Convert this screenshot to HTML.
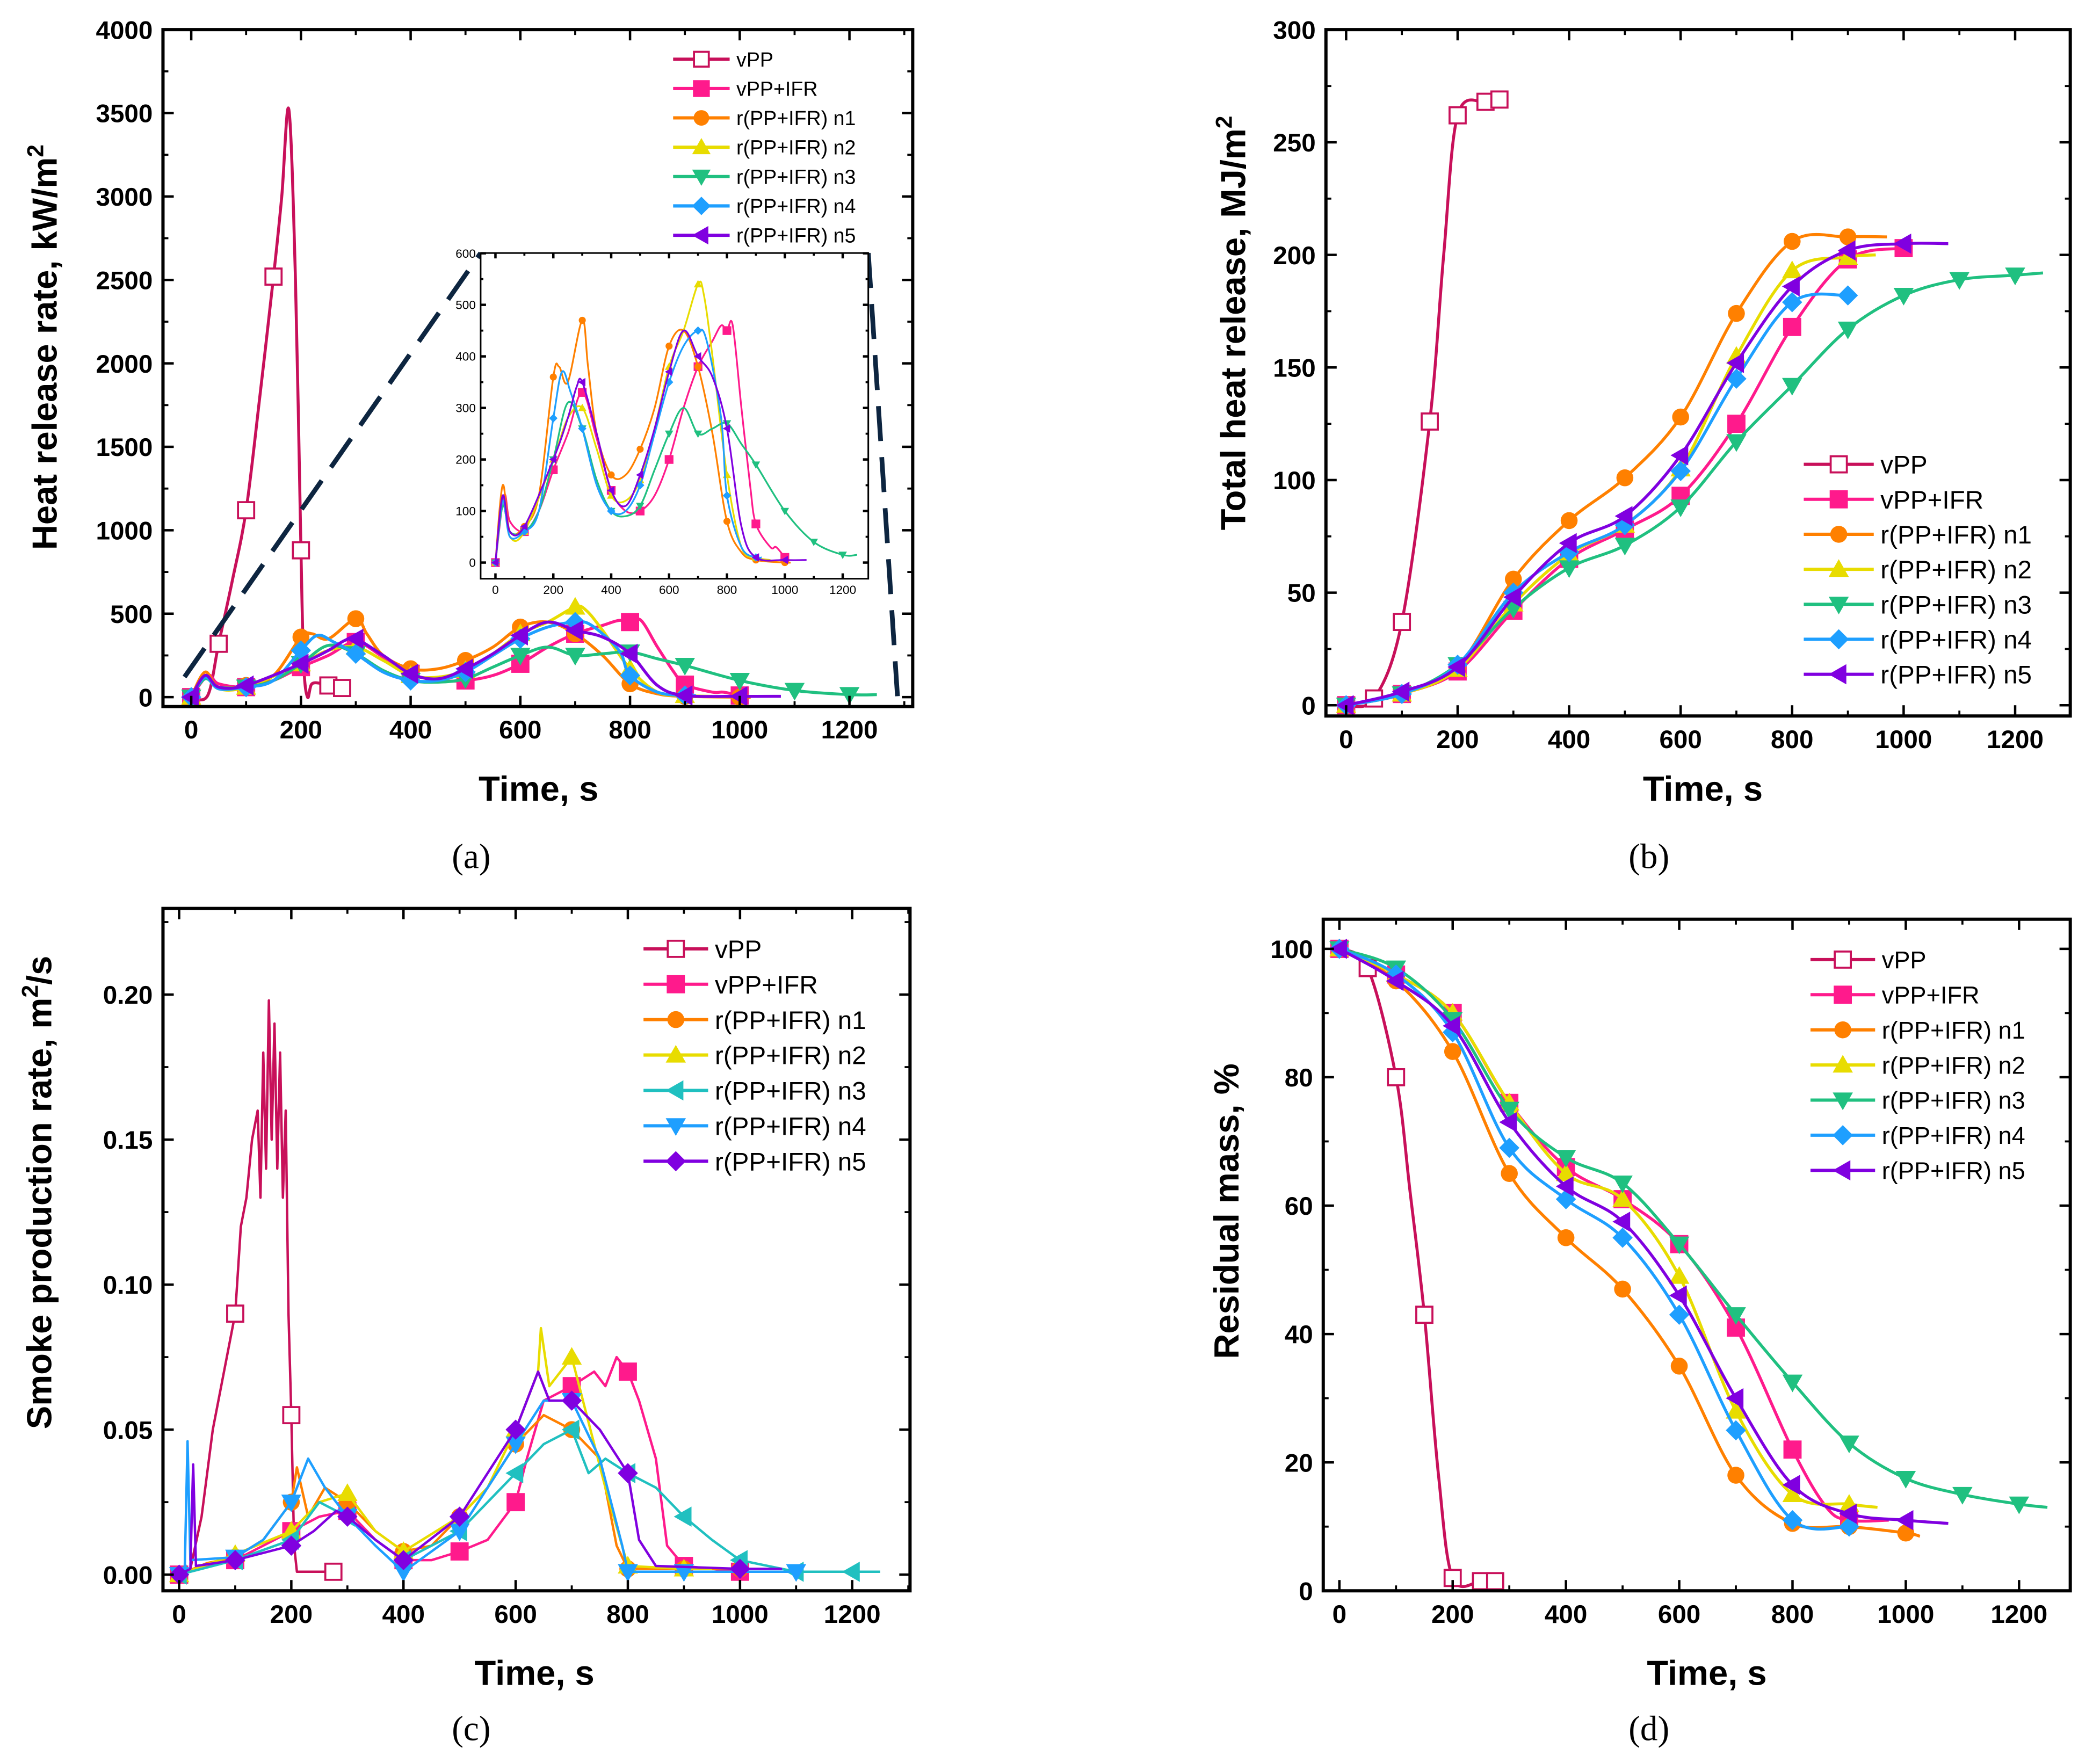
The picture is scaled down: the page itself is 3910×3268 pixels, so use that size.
<!DOCTYPE html>
<html><head><meta charset="utf-8">
<style>
html,body{margin:0;padding:0;background:#fff;}
svg{display:block;}
</style></head>
<body>
<svg id="fig" width="3910" height="3268" viewBox="0 0 1560 1304" xmlns="http://www.w3.org/2000/svg" font-family="Liberation Sans, Arial, sans-serif">
<rect x="0" y="0" width="1560" height="1304" fill="#fff"/>
</svg>
<script>
// ---------- DATA ----------
const names = ["vPP","vPP+IFR","r(PP+IFR) n1","r(PP+IFR) n2","r(PP+IFR) n3","r(PP+IFR) n4","r(PP+IFR) n5"];
const xTicks = [0,200,400,600,800,1000,1200];
// (a) heat release rate
const hrrTicks = [0,500,1000,1500,2000,2500,3000,3500,4000];
const hrrInsetTicks = [0,100,200,300,400,500,600];
const hrr_vPP = [[0,0],[30,10],[50,320],[75,700],[100,1120],[125,1800],[150,2520],[165,3000],[178,3520],[190,2500],[200,880],[205,200],[212,0],[220,80],[240,80],[250,70],[275,55]];
const hrr_vPPIFR = [[0,0],[30,130],[50,80],[100,60],[150,100],[200,180],[250,250],[300,330],[350,240],[400,140],[450,100],[500,100],[550,130],[600,200],[650,300],[700,380],[750,430],[780,460],[800,450],[820,460],[850,300],[880,150],[900,75],[950,30],[970,30],[1000,10]];
const hrr_n1 = [[0,0],[25,150],[50,60],[100,70],[150,130],[200,360],[220,380],[250,350],[300,470],[320,380],[350,250],[400,170],[450,170],[500,220],[550,300],[600,420],[650,450],[700,380],[750,250],[800,80],[850,20],[900,5],[1000,0],[1020,0]];
const hrr_n2 = [[0,0],[25,120],[50,50],[100,60],[200,200],[250,280],[300,300],[350,220],[400,130],[450,120],[500,160],[550,260],[600,380],[650,450],[700,540],[720,520],[750,400],[800,170],[850,30],[900,10],[950,5]];
const hrr_n3 = [[0,0],[25,110],[50,60],[100,60],[150,100],[200,200],[250,310],[300,260],[350,160],[400,100],[450,90],[500,110],[550,180],[600,250],[650,300],[700,250],[750,260],[800,270],[850,230],[900,190],[1000,100],[1100,40],[1200,15],[1250,15]];
const hrr_n4 = [[0,0],[25,120],[50,50],[100,60],[150,100],[200,280],[230,370],[260,330],[300,260],[350,150],[400,100],[450,100],[500,150],[550,250],[600,350],[650,420],[700,450],[730,430],[780,280],[800,130],[850,30],[900,10],[920,10]];
const hrr_n5 = [[0,0],[25,130],[50,60],[100,70],[200,200],[250,280],[280,340],[300,350],[350,250],[400,140],[450,110],[500,170],[550,260],[600,370],[650,450],[700,400],[750,360],[800,260],[850,70],[900,10],[1000,5],[1075,5]];
// (b) total heat release
const thrTicks = [0,50,100,150,200,250,300];
const thr_vPP = [[0,0],[50,3],[100,37],[150,126],[175,200],[200,262],[250,268],[275,269]];
const thr_vPPIFR = [[0,0],[50,2],[100,5],[200,15],[300,42],[400,65],[500,78],[600,93],[700,125],[800,168],[900,198],[1000,203]];
const thr_n1 = [[0,0],[100,5],[200,17],[300,56],[400,82],[500,101],[600,128],[700,174],[800,206],[900,208],[970,208]];
const thr_n2 = [[0,0],[100,5],[200,16],[300,45],[400,67],[500,80],[600,105],[700,155],[800,193],[900,199],[950,200]];
const thr_n3 = [[0,0],[100,5],[200,18],[300,43],[400,61],[500,71],[600,88],[700,117],[800,142],[900,167],[1000,182],[1100,189],[1200,191],[1250,192]];
const thr_n4 = [[0,0],[100,5],[200,18],[300,50],[400,68],[500,80],[600,104],[700,145],[800,179],[900,182]];
const thr_n5 = [[0,0],[100,6],[200,17],[300,48],[400,72],[500,84],[600,111],[700,152],[800,186],[900,202],[1000,205],[1080,205]];
// (c) smoke production rate
const sprTicks = [0,0.05,0.10,0.15,0.20];
const sprTickLabels = ["0.00","0.05","0.10","0.15","0.20"];
const spr_vPP = [[0,0],[20,0.002],[40,0.02],[60,0.05],[80,0.07],[100,0.09],[110,0.12],[120,0.13],[130,0.15],[140,0.16],[145,0.13],[150,0.18],[155,0.14],[160,0.198],[165,0.15],[170,0.19],[175,0.14],[180,0.18],[185,0.13],[190,0.16],[195,0.09],[200,0.055],[205,0.01],[210,0.001],[275,0.001]];
const spr_vPPIFR = [[0,0],[50,0.003],[100,0.005],[150,0.01],[200,0.015],[250,0.02],[300,0.022],[350,0.012],[400,0.005],[450,0.005],[500,0.008],[550,0.012],[600,0.025],[620,0.04],[650,0.06],[700,0.065],[740,0.07],[760,0.065],[780,0.075],[800,0.07],[820,0.06],[850,0.04],[870,0.01],[900,0.003],[1000,0.001]];
const spr_n1 = [[0,0],[50,0.004],[100,0.006],[150,0.012],[200,0.025],[210,0.037],[230,0.02],[260,0.03],[300,0.025],[350,0.015],[400,0.008],[450,0.01],[500,0.02],[550,0.03],[600,0.045],[650,0.055],[700,0.05],[750,0.04],[780,0.01],[800,0.002],[900,0.002],[1000,0.002]];
const spr_n2 = [[0,0],[100,0.007],[200,0.015],[250,0.025],[300,0.028],[350,0.015],[400,0.008],[500,0.02],[550,0.03],[600,0.05],[640,0.07],[645,0.085],[660,0.065],[700,0.075],[720,0.06],[760,0.03],[800,0.003],[900,0.002],[950,0.002]];
const spr_n3 = [[0,0],[100,0.005],[200,0.012],[250,0.025],[300,0.02],[350,0.012],[400,0.005],[500,0.015],[550,0.025],[600,0.035],[650,0.045],[700,0.05],[730,0.035],[760,0.04],[800,0.035],[850,0.03],[900,0.02],[950,0.012],[1000,0.005],[1100,0.001],[1200,0.001],[1250,0.001]];
const spr_n4 = [[0,0],[10,0.002],[15,0.046],[20,0.005],[100,0.006],[150,0.012],[200,0.025],[230,0.04],[260,0.03],[300,0.02],[350,0.01],[400,0.001],[450,0.008],[500,0.015],[550,0.03],[600,0.045],[650,0.06],[700,0.06],[750,0.04],[790,0.01],[800,0.001],[900,0.001],[1100,0.001]];
const spr_n5 = [[0,0],[20,0.002],[25,0.038],[30,0.003],[100,0.005],[200,0.01],[240,0.015],[280,0.022],[300,0.02],[350,0.012],[400,0.005],[500,0.02],[550,0.035],[600,0.05],[640,0.07],[660,0.06],[700,0.06],[750,0.05],[800,0.035],[820,0.012],[850,0.003],[1000,0.002],[1075,0.002]];
// (d) residual mass
const rmTicks = [0,20,40,60,80,100];
const rm_vPP = [[0,100],[50,97],[100,80],[125,62],[150,43],[175,18],[200,2],[250,1.5],[275,1.5]];
const rm_vPPIFR = [[0,100],[100,96],[200,90],[300,76],[400,66],[500,61],[600,54],[700,41],[800,22],[860,13],[900,11],[970,11]];
const rm_n1 = [[0,100],[100,95],[200,84],[300,65],[400,55],[500,47],[600,35],[700,18],[800,10.5],[900,10],[1000,9],[1025,8.5]];
const rm_n2 = [[0,100],[100,96],[200,90],[300,76],[400,65],[500,61],[600,49],[700,28],[800,15],[900,13.5],[950,13]];
const rm_n3 = [[0,100],[100,97],[200,89],[300,75],[400,67.5],[500,63.5],[600,54],[700,43],[800,32.5],[900,23],[1000,17.5],[1100,15],[1200,13.5],[1250,13]];
const rm_n4 = [[0,100],[100,96],[200,87],[300,69],[400,61],[500,55],[600,43],[700,25],[800,11],[900,10]];
const rm_n5 = [[0,100],[100,95],[200,88],[300,73],[400,63],[500,57.5],[600,46],[700,30],[800,16.5],[900,12],[1000,11],[1075,10.5]];

// ---------- STYLE ----------
const colors = ["#c8105a","#ff1a8c","#ff8000","#e8dc00","#20c080","#1e9fff","#8000e0"];
const colorsC = ["#c8105a","#ff1a8c","#ff8000","#e8dc00","#20c0c0","#1e9fff","#8000e0"];
const shapesStd = ["osq","sq","circ","tup","tdn","dia","tlf"];
const shapesC = ["osq","sq","circ","tup","tlf","tdn","dia"];
const NS = "http://www.w3.org/2000/svg";
const svg = document.getElementById("fig");
function mk(tag, attrs, parent){
  const e = document.createElementNS(NS, tag);
  for (const k in attrs) e.setAttribute(k, attrs[k]);
  (parent||svg).appendChild(e);
  return e;
}
function smoothPath(pts){
  if (pts.length<3) return "M"+pts.map(p=>p.join(",")).join("L");
  let d = "M"+pts[0][0]+","+pts[0][1];
  for (let i=0;i<pts.length-1;i++){
    const p0=pts[Math.max(i-1,0)],p1=pts[i],p2=pts[i+1],p3=pts[Math.min(i+2,pts.length-1)];
    const c1=[p1[0]+(p2[0]-p0[0])/6,p1[1]+(p2[1]-p0[1])/6];
    const c2=[p2[0]-(p3[0]-p1[0])/6,p2[1]-(p3[1]-p1[1])/6];
    d+="C"+c1.join(",")+" "+c2.join(",")+" "+p2.join(",");
  }
  return d;
}
function marker(g, shape, x, y, r, col){
  let e;
  const fill = shape==="osq" ? "#fff" : col;
  if (shape==="osq"||shape==="sq") e = mk("rect",{x:x-r,y:y-r,width:2*r,height:2*r,fill:fill,stroke:col,"stroke-width":1.5},g);
  else if (shape==="circ") e = mk("circle",{cx:x,cy:y,r:r*1.05,fill:col},g);
  else {
    let p;
    const s=r*1.25;
    if (shape==="tup") p=[[x,y-s],[x+s,y+s*0.75],[x-s,y+s*0.75]];
    if (shape==="tdn") p=[[x,y+s],[x+s,y-s*0.75],[x-s,y-s*0.75]];
    if (shape==="tlf") p=[[x-s,y],[x+s*0.75,y-s],[x+s*0.75,y+s]];
    if (shape==="dia") p=[[x,y-s],[x+s,y],[x,y+s],[x-s,y]];
    e = mk("polygon",{points:p.map(q=>q.join(",")).join(" "),fill:col},g);
  }
  
  
}

function panel(cfg){
  const g = mk("g",{});
  
  
  const X = t => cfg.x0 + t*cfg.xs;
  const Y = v => cfg.y0 - v*cfg.ys;
  const F = cfg.frame; // [l,t,r,b]
  const clipId = "clip_"+cfg.name;
  const cp = mk("clipPath",{id:clipId},g);
  mk("rect",{x:F[0],y:F[1],width:F[2]-F[0],height:F[3]-F[1]},cp);
  const sg = mk("g",{"clip-path":"url(#"+clipId+")"},g);
  cfg.series.forEach((s,i)=>{
    if (!s) return;
    const pts = s.map(p=>[X(p[0]),Y(p[1])]);
    const d = cfg.linear ? "M"+pts.map(p=>p.join(",")).join("L") : smoothPath(pts);
    const path = mk("path",{d:d,fill:"none",stroke:cfg.colors[i],"stroke-width":cfg.lw||2.2,"stroke-linejoin":"round"},sg);
    
    
    s.forEach(p=>{
      if (p[0]%cfg.mstep===0 || (cfg.extraMarks && cfg.extraMarks[i] && cfg.extraMarks[i].includes(p[0])))
        marker(sg, cfg.shapes[i], X(p[0]), Y(p[1]), cfg.mr, cfg.colors[i]);
    });
  });
  const fr = mk("rect",{x:F[0],y:F[1],width:F[2]-F[0],height:F[3]-F[1],fill:"none",stroke:"#000","stroke-width":cfg.fw||2.4},g);
  
  
  const tl = cfg.tl||8, fs = cfg.tfs||19, bold = cfg.tbold===false?"normal":"bold";
  cfg.xticks.forEach((t,k)=>{
    const x = X(t);
    mk("line",{x1:x,y1:F[3],x2:x,y2:F[3]-tl,stroke:"#000","stroke-width":1.8},g);
    mk("line",{x1:x,y1:F[1],x2:x,y2:F[1]+tl,stroke:"#000","stroke-width":1.8},g);
    const mx = X(t+ (cfg.xticks[1]-cfg.xticks[0])/2);
    if (mx<F[2]){
      mk("line",{x1:mx,y1:F[3],x2:mx,y2:F[3]-tl/2,stroke:"#000","stroke-width":1.5},g);
      mk("line",{x1:mx,y1:F[1],x2:mx,y2:F[1]+tl/2,stroke:"#000","stroke-width":1.5},g);
    }
    const tx = mk("text",{x:x,y:F[3]+fs*1.25,"text-anchor":"middle","font-size":fs,"font-weight":bold},g);
    tx.textContent = t;
    
    
  });
  cfg.yticks.forEach((v,k)=>{
    const y = Y(v);
    mk("line",{x1:F[0],y1:y,x2:F[0]+tl,y2:y,stroke:"#000","stroke-width":1.8},g);
    mk("line",{x1:F[2],y1:y,x2:F[2]-tl,y2:y,stroke:"#000","stroke-width":1.8},g);
    const my = Y(v+(cfg.yticks[1]-cfg.yticks[0])/2);
    if (my>F[1]){
      mk("line",{x1:F[0],y1:my,x2:F[0]+tl/2,y2:my,stroke:"#000","stroke-width":1.5},g);
      mk("line",{x1:F[2],y1:my,x2:F[2]-tl/2,y2:my,stroke:"#000","stroke-width":1.5},g);
    }
    const ty = mk("text",{x:F[0]-fs*0.4,y:y+fs*0.36,"text-anchor":"end","font-size":fs,"font-weight":bold},g);
    ty.textContent = cfg.ylabels ? cfg.ylabels[k] : v;
    
    
  });
  if (cfg.legend){
    const L = cfg.legend;
    names.forEach((n,i)=>{
      const y = L.y + i*L.dy;
      const lg = mk("g",{},g);
      
      
      mk("line",{x1:L.x,y1:y,x2:L.x+L.w,y2:y,stroke:cfg.colors[i],"stroke-width":2.4},lg);
      marker(lg, cfg.shapes[i], L.x+L.w/2, y, L.mr, cfg.colors[i]);
      const t = mk("text",{x:L.x+L.w+5,y:y+L.fs*0.36,"font-size":L.fs},lg);
      t.textContent = n;
    });
  }
  if (cfg.xtitle){
    const t = mk("text",{x:cfg.xtitle[0],y:cfg.xtitle[1],"text-anchor":"middle","font-size":26,"font-weight":"bold"},g);
    t.textContent = "Time, s";
    
    
  }
  if (cfg.ytitle){
    const t = mk("text",{x:0,y:0,"text-anchor":"middle","font-size":26,"font-weight":"bold",transform:"translate("+cfg.ytitle[0]+","+cfg.ytitle[1]+") rotate(-90)"},g);
    t.innerHTML = cfg.ytitle[2];
    
    
  }
  if (cfg.label){
    const t = mk("text",{x:cfg.label[0],y:cfg.label[1],"text-anchor":"middle","font-size":26,style:"font-family:'Liberation Serif',serif"},g);
    t.textContent = cfg.label[2];
    
    
  }
}

const hrrSeries = [hrr_vPP,hrr_vPPIFR,hrr_n1,hrr_n2,hrr_n3,hrr_n4,hrr_n5];
const vppMarks = [[50,150,250,275]];
panel({name:"panel-a-hrr",x0:142,xs:0.4075,y0:518,ys:0.124,frame:[121,22,678,525],
  series:hrrSeries,colors:colors,shapes:shapesStd,mstep:100,mr:6,extraMarks:vppMarks,
  xticks:xTicks,yticks:hrrTicks,
  legend:{x:500,y:44,dy:21.8,w:42,fs:15,mr:5.5},
  xtitle:[400,595],ytitle:[42,258,'Heat release rate, kW/m<tspan dy="-10" font-size="17">2</tspan>'],label:[350,645,"(a)"]});
mk("line",{x1:137,y1:503,x2:357,y2:188,stroke:"#0d2540","stroke-width":3.5,"stroke-dasharray":"26,12"});
mk("line",{x1:645,y1:188,x2:667,y2:522,stroke:"#0d2540","stroke-width":3.5,"stroke-dasharray":"26,12"});
mk("rect",{x:357,y:188,width:288,height:242,fill:"#fff"});
panel({name:"panel-a-inset",x0:368,xs:0.215,y0:418,ys:0.383,frame:[357,188,645,430],
  series:[null,hrr_vPPIFR,hrr_n1,hrr_n2,hrr_n3,hrr_n4,hrr_n5],colors:colors,shapes:shapesStd,mstep:100,mr:2.5,lw:1.3,fw:1.2,
  xticks:xTicks,yticks:hrrInsetTicks,tl:4,tfs:9,tbold:false});
panel({name:"panel-b-thr",x0:1000,xs:0.4142,y0:524,ys:1.673,frame:[985,22,1538,532],
  series:[thr_vPP,thr_vPPIFR,thr_n1,thr_n2,thr_n3,thr_n4,thr_n5],colors:colors,shapes:shapesStd,mstep:100,mr:6,extraMarks:vppMarks,
  xticks:xTicks,yticks:thrTicks,
  legend:{x:1340,y:345,dy:26,w:52,fs:19,mr:6},
  xtitle:[1265,595],ytitle:[925,240,'Total heat release, MJ/m<tspan dy="-10" font-size="17">2</tspan>'],label:[1225,645,"(b)"]});
panel({name:"panel-c-spr",x0:133,xs:0.4167,y0:1170,ys:2155,frame:[121,675,676,1182],linear:true,lw:1.8,
  series:[spr_vPP,spr_vPPIFR,spr_n1,spr_n2,spr_n3,spr_n4,spr_n5],colors:colorsC,shapes:shapesC,mstep:100,mr:6,extraMarks:[[275]],
  xticks:xTicks,yticks:sprTicks,ylabels:sprTickLabels,
  legend:{x:478,y:705,dy:26.3,w:48,fs:19,mr:6},
  xtitle:[397,1252],ytitle:[38,886,'Smoke production rate, m<tspan dy="-10" font-size="17">2</tspan><tspan dy="10">/s</tspan>'],label:[350,1293,"(c)"]});
panel({name:"panel-d-mass",x0:995,xs:0.4208,y0:1182,ys:4.77,frame:[983,683,1538,1182],
  series:[rm_vPP,rm_vPPIFR,rm_n1,rm_n2,rm_n3,rm_n4,rm_n5],colors:colors,shapes:shapesStd,mstep:100,mr:6,extraMarks:vppMarks,
  xticks:xTicks,yticks:rmTicks,
  legend:{x:1345,y:713,dy:26.1,w:48,fs:18,mr:6},
  xtitle:[1268,1252],ytitle:[920,900,'Residual mass, %'],label:[1225,1293,"(d)"]});
</script>
</body></html>
